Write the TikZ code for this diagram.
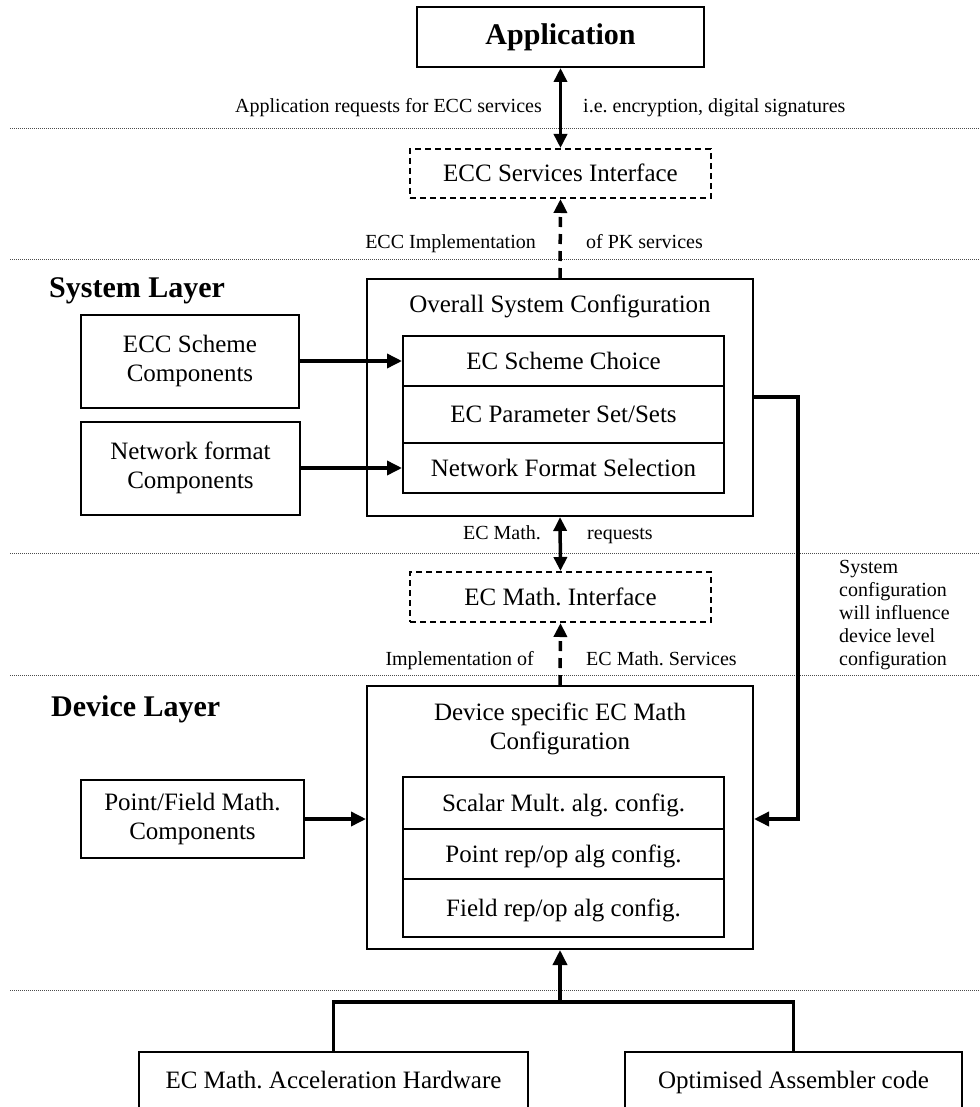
\documentclass[tikz,border=0pt]{standalone}
\usepackage{fontspec}
\setmainfont{Liberation Serif}
\usetikzlibrary{arrows.meta}
\newcommand{\fsbox}{\fontsize{25}{29}\selectfont}
\newcommand{\fslbl}{\fontsize{20}{23}\selectfont}
\newcommand{\fsttl}{\fontsize{30}{34}\selectfont\bfseries}
\frenchspacing
\tikzset{
  x=1pt, y=-1pt,
  box/.style={draw, line width=2pt, inner sep=0pt, align=center, font=\fsbox},
  one/.style={text height=22pt, text depth=5.5pt},
  dbox/.style={box, one, dash pattern=on 6pt off 4pt},
  lbl/.style={font=\fslbl, inner sep=0pt},
  ttl/.style={font=\fsttl, inner sep=0pt},
  conn/.style={line width=3.5pt, line join=miter},
  arr/.style={conn, -{Triangle[length=15pt,width=14pt]}},
  darr/.style={conn, {Triangle[length=14pt,width=13pt]}-{Triangle[length=14pt,width=13pt]}},
  dasharr/.style={conn, dash pattern=on 10pt off 7pt, -{Triangle[length=14pt,width=13pt]}},
  dotline/.style={line width=1pt, dash pattern=on 1pt off 1pt, black!70}
}
\begin{document}
\begin{tikzpicture}
\clip (0,0) rectangle (979,1107);
\useasboundingbox (0,0) rectangle (979,1107);

% layer separators
\coordinate (d1l) at (10,129); \coordinate (d1r) at (979,129);
\coordinate (d2l) at (10,259); \coordinate (d2r) at (979,259);
\coordinate (d3l) at (10,553); \coordinate (d3r) at (979,553);
\coordinate (d4l) at (10,675); \coordinate (d4r) at (979,675);
\coordinate (d5l) at (10,990); \coordinate (d5r) at (979,990);
\foreach \i in {1,...,5} \draw[dotline] (d\i l) -- (d\i r);

% top
\node[box, minimum width=287pt, minimum height=60pt, font=\fsttl] (app) at (560.5,37) {Application};
\node[dbox, minimum width=301pt, minimum height=49pt] (esi) at (560.5,173.5) {ECC Services Interface};
\node[lbl, anchor=base east] (l1) at (542,113) {Application requests for ECC services};
\node[lbl, anchor=base west] (l2) at (583,113) {i.e. encryption, digital signatures};
\node[lbl, anchor=base east] (l3) at (536,248) {ECC Implementation};
\node[lbl, anchor=base west] (l4) at (586,248) {of PK services};

% system layer
\node[ttl, anchor=west] (sysl) at (49,291) {System Layer};
\node[box, minimum width=386pt, minimum height=237pt] (osc) at (560,397.5) {};
\node[font=\fsbox, inner sep=0pt, one] (osct) at (560,304) {Overall System Configuration};
\node[box, one, minimum width=321pt, minimum height=50pt] (ecs) at (563.5,361) {EC Scheme Choice};
\node[box, one, minimum width=321pt, minimum height=57pt] (ecp) at (563.5,414.5) {EC Parameter Set/Sets};
\node[box, one, minimum width=321pt, minimum height=50pt] (nfs) at (563.5,468) {Network Format Selection};
\node[box, minimum width=218pt, minimum height=93pt] (eccc) at (190,361) {ECC Scheme\\Components};
\node[box, minimum width=219pt, minimum height=93pt] (nfc) at (190.5,468) {Network format\\Components};

\draw[arr] (eccc.east) -- (ecs.west);
\draw[arr] (nfc.east) -- (nfs.west);
\draw[darr] (app.south) -- (esi.north);
\draw[dasharr] (osc.north) -- (esi.south);

% math interface
\node[lbl, anchor=base east] (l5) at (541,539) {EC Math.};
\node[lbl, anchor=base west] (l6) at (587,539) {requests};
\node[dbox, minimum width=301pt, minimum height=50pt] (emi) at (560.5,597) {EC Math. Interface};
\node[lbl, anchor=base east] (l7) at (534,665) {Implementation of};
\node[lbl, anchor=base west] (l8) at (586,665) {EC Math. Services};
\node[lbl, anchor=west, align=left] (note) at (839,615) {System\\configuration\\will influence\\device level\\configuration};

% device layer
\node[ttl, anchor=west] (devl) at (51,709) {Device Layer};
\node[box, minimum width=386pt, minimum height=263pt] (dev) at (560,817.5) {};
\node[font=\fsbox, inner sep=0pt, align=center] (devt) at (560,729) {Device specific EC Math\\Configuration};
\node[box, one, minimum width=321pt, minimum height=52pt] (sm) at (563.5,803) {Scalar Mult. alg. config.};
\node[box, one, minimum width=321pt, minimum height=50pt] (pr) at (563.5,854) {Point rep/op alg config.};
\node[box, one, minimum width=321pt, minimum height=58pt] (fr) at (563.5,908) {Field rep/op alg config.};
\node[box, minimum width=223pt, minimum height=78pt] (pf) at (192.5,819) {Point/Field Math.\\Components};

\draw[darr] (osc.south) -- (emi.north);
\draw[dasharr] (dev.north) -- (emi.south);
\draw[arr] (pf.east) -- (pf.east -| dev.west);

\coordinate (rc) at (798,397);
\draw[arr] (osc.east |- rc) -- (rc) |- (pf.east -| dev.east);

% bottom
\node[box, one, minimum width=389pt, minimum height=57pt, anchor=north] (hw) at (333.5,1051) {EC Math. Acceleration Hardware};
\node[box, one, minimum width=337pt, minimum height=57pt, anchor=north] (asm) at (793.5,1051) {Optimised Assembler code};
\coordinate (j) at (560,1002);
\draw[conn] (hw.north) |- (asm.north |- j) -- (asm.north);
\draw[arr] (j) -- (dev.south);
\end{tikzpicture}
\end{document}
